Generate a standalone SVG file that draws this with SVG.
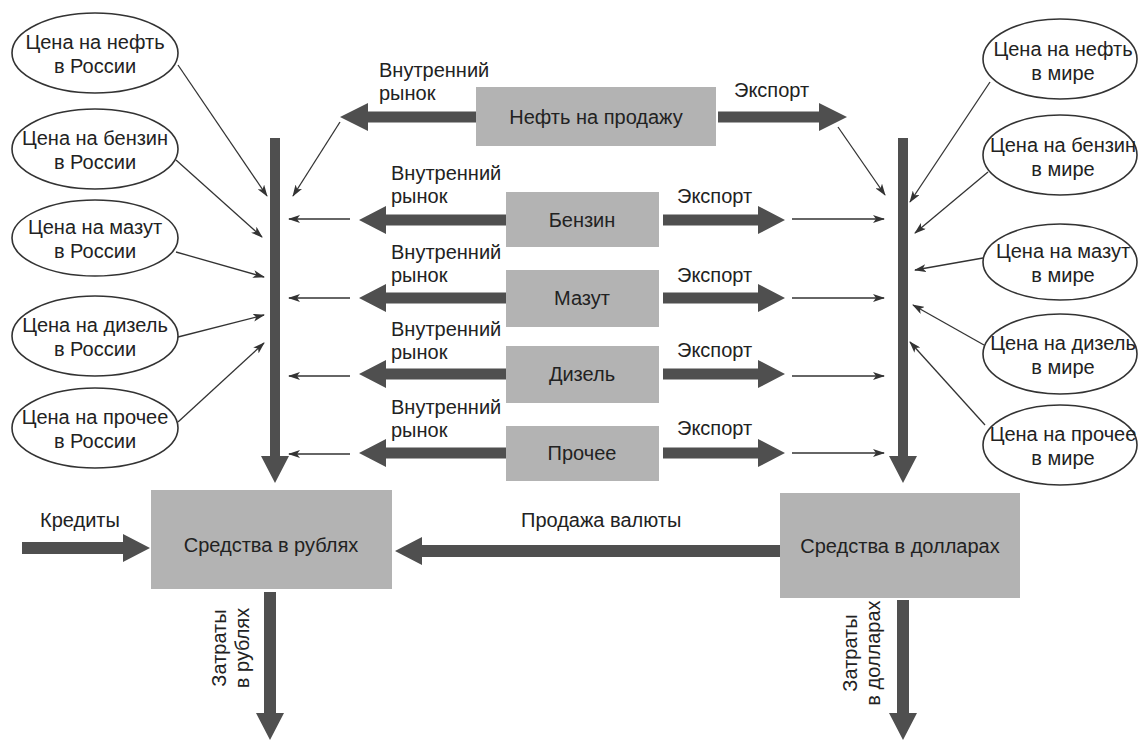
<svg xmlns="http://www.w3.org/2000/svg" width="1138" height="740" viewBox="0 0 1138 740">
<style>
.ell{fill:#fff;stroke:#333;stroke-width:1.6}
.box{fill:#b3b3b3}
.thick{fill:#4f4f4f}
.thin{stroke:#333;stroke-width:1.3;fill:none;marker-end:url(#ah)}
text{font-family:"Liberation Sans","Noto Sans",sans-serif;font-size:20px;fill:#222}
.c{text-anchor:middle}
</style>
<defs>
<marker id="ah" viewBox="0 0 12 8" refX="11" refY="4" markerWidth="12" markerHeight="8" markerUnits="userSpaceOnUse" orient="auto">
<path d="M0,0 L12,4 L0,8 L3,4 z" fill="#333"/>
</marker>
</defs>
<rect width="1138" height="740" fill="#fff"/>

<g id="ru-oil"><ellipse class="ell" cx="95" cy="53" rx="83" ry="40"/><text class="c" x="95" y="49">Цена на нефть<tspan x="95" dy="24">в России</tspan></text></g>
<g id="ru-petrol"><ellipse class="ell" cx="95" cy="149" rx="83" ry="40"/><text class="c" x="95" y="145">Цена на бензин<tspan x="95" dy="24">в России</tspan></text></g>
<g id="ru-fuel"><ellipse class="ell" cx="95" cy="238" rx="83" ry="38"/><text class="c" x="95" y="234">Цена на мазут<tspan x="95" dy="24">в России</tspan></text></g>
<g id="ru-diesel"><ellipse class="ell" cx="95" cy="336" rx="83" ry="40"/><text class="c" x="95" y="332">Цена на дизель<tspan x="95" dy="24">в России</tspan></text></g>
<g id="ru-other"><ellipse class="ell" cx="95" cy="428" rx="83" ry="40"/><text class="c" x="95" y="424">Цена на прочее<tspan x="95" dy="24">в России</tspan></text></g>

<g id="w-oil"><ellipse class="ell" cx="1060" cy="59" rx="77" ry="40"/><text class="c" x="1063" y="56">Цена на нефть<tspan x="1063" dy="24">в мире</tspan></text></g>
<g id="w-petrol"><ellipse class="ell" cx="1060" cy="155" rx="77" ry="40"/><text class="c" x="1063" y="152">Цена на бензин<tspan x="1063" dy="24">в мире</tspan></text></g>
<g id="w-fuel"><ellipse class="ell" cx="1060" cy="262" rx="77" ry="38"/><text class="c" x="1063" y="258">Цена на мазут<tspan x="1063" dy="24">в мире</tspan></text></g>
<g id="w-diesel"><ellipse class="ell" cx="1060" cy="354" rx="77" ry="40"/><text class="c" x="1063" y="350">Цена на дизель<tspan x="1063" dy="24">в мире</tspan></text></g>
<g id="w-other"><ellipse class="ell" cx="1060" cy="445" rx="77" ry="40"/><text class="c" x="1063" y="441">Цена на прочее<tspan x="1063" dy="24">в мире</tspan></text></g>

<g id="oil-sale"><rect class="box" x="476" y="87" width="240" height="59"/><text class="c" x="596" y="124">Нефть на продажу</text></g>
<g id="petrol"><rect class="box" x="506" y="192" width="153" height="55"/><text class="c" x="582" y="227">Бензин</text></g>
<g id="fuel"><rect class="box" x="506" y="270" width="153" height="57"/><text class="c" x="582" y="305">Мазут</text></g>
<g id="diesel"><rect class="box" x="506" y="346" width="153" height="57"/><text class="c" x="582" y="381">Дизель</text></g>
<g id="other"><rect class="box" x="506" y="426" width="153" height="55"/><text class="c" x="582" y="460">Прочее</text></g>
<g id="rub"><rect class="box" x="151" y="490" width="241" height="99"/><text class="c" x="271" y="552">Средства в рублях</text></g>
<g id="usd"><rect class="box" x="780" y="493" width="240" height="105"/><text class="c" x="900" y="553">Средства в долларах</text></g>

<g id="connectors">
<polygon class="thick" points="476,111.5 368,111.5 368,103 340,117 368,131 368,122.5 476,122.5"/>
<polygon class="thick" points="718,111.5 819,111.5 819,103 847,117 819,131 819,122.5 718,122.5"/>

<polygon class="thick" points="506,214.5 386,214.5 386,206 359,220 386,234 386,225.5 506,225.5"/>
<polygon class="thick" points="506,292.5 386,292.5 386,284 359,298 386,312 386,303.5 506,303.5"/>
<polygon class="thick" points="506,368.5 386,368.5 386,360 359,374 386,388 386,379.5 506,379.5"/>
<polygon class="thick" points="506,447.5 386,447.5 386,439 359,453 386,467 386,458.5 506,458.5"/>

<polygon class="thick" points="663,214.5 758,214.5 758,206 785,220 758,234 758,225.5 663,225.5"/>
<polygon class="thick" points="663,292.5 758,292.5 758,284 785,298 758,312 758,303.5 663,303.5"/>
<polygon class="thick" points="663,368.5 758,368.5 758,360 785,374 758,388 758,379.5 663,379.5"/>
<polygon class="thick" points="663,447.5 758,447.5 758,439 785,453 758,467 758,458.5 663,458.5"/>

<polygon class="thick" points="270,138 280,138 280,456 289,456 275,483 261,456 270,456"/>
<polygon class="thick" points="898,138 908,138 908,456 917,456 903,483 889,456 898,456"/>

<polygon class="thick" points="22,542 123,542 123,534 150,548 123,562 123,554 22,554"/>
<polygon class="thick" points="780,545 422,545 422,537 395,551 422,565 422,557 780,557"/>
<polygon class="thick" points="264,592 276,592 276,713 284,713 270,740 256,713 264,713"/>
<polygon class="thick" points="897,600 909,600 909,713 917,713 903,740 889,713 897,713"/>

<line class="thin" x1="340" y1="122" x2="293" y2="196"/>
<line class="thin" x1="350" y1="219" x2="289" y2="219"/>
<line class="thin" x1="350" y1="298" x2="289" y2="298"/>
<line class="thin" x1="350" y1="376" x2="289" y2="376"/>
<line class="thin" x1="350" y1="454" x2="289" y2="454"/>
<line class="thin" x1="178" y1="65" x2="267" y2="196"/>
<line class="thin" x1="176" y1="160" x2="262" y2="237"/>
<line class="thin" x1="176" y1="252" x2="264" y2="277"/>
<line class="thin" x1="178" y1="337" x2="264" y2="315"/>
<line class="thin" x1="178" y1="422" x2="264" y2="343"/>

<line class="thin" x1="838" y1="127" x2="885" y2="195"/>
<line class="thin" x1="792" y1="219" x2="884" y2="219"/>
<line class="thin" x1="792" y1="298" x2="884" y2="298"/>
<line class="thin" x1="792" y1="376" x2="884" y2="376"/>
<line class="thin" x1="792" y1="453" x2="884" y2="453"/>
<line class="thin" x1="990" y1="82" x2="910" y2="202"/>
<line class="thin" x1="988" y1="172" x2="915" y2="233"/>
<line class="thin" x1="983" y1="258" x2="915" y2="270"/>
<line class="thin" x1="984" y1="345" x2="913" y2="305"/>
<line class="thin" x1="985" y1="425" x2="910" y2="342"/>
</g>

<g id="labels">
<text x="379" y="77">Внутренний<tspan x="379" dy="23">рынок</tspan></text>
<text x="734" y="97">Экспорт</text>
<text x="391" y="180">Внутренний<tspan x="391" dy="23">рынок</tspan></text>
<text x="677" y="203">Экспорт</text>
<text x="391" y="259">Внутренний<tspan x="391" dy="23">рынок</tspan></text>
<text x="677" y="282">Экспорт</text>
<text x="391" y="336">Внутренний<tspan x="391" dy="23">рынок</tspan></text>
<text x="677" y="357">Экспорт</text>
<text x="391" y="414">Внутренний<tspan x="391" dy="23">рынок</tspan></text>
<text x="677" y="435">Экспорт</text>
<text x="40" y="527">Кредиты</text>
<text x="521" y="527">Продажа валюты</text>
<text class="c" transform="translate(226,648) rotate(-90)">Затраты<tspan x="0" dy="23">в рублях</tspan></text>
<text class="c" transform="translate(857,653) rotate(-90)">Затраты<tspan x="0" dy="23">в долларах</tspan></text>
</g>
</svg>
